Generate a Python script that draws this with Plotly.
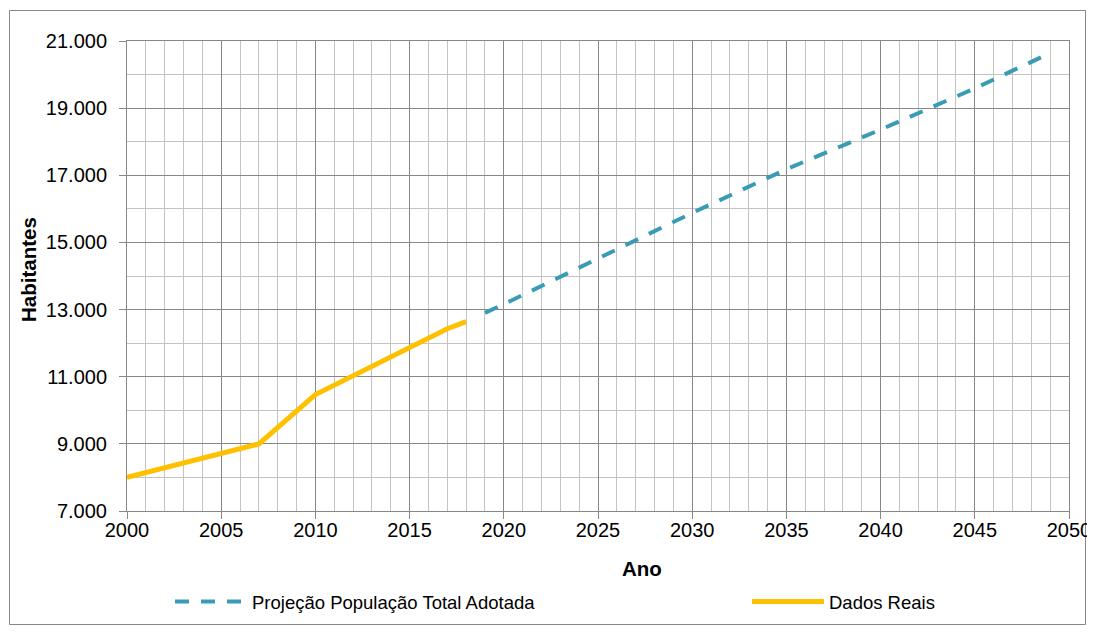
import plotly.graph_objects as go

# ---- data ----
real_years = [2000, 2005, 2007, 2010, 2015, 2017, 2018]
real_pop = [8000, 8720, 9000, 10470, 11880, 12430, 12640]

proj_years = [2019, 2020, 2025, 2030, 2035, 2040, 2045, 2049]
proj_pop = [12900, 13160, 14520, 15880, 17180, 18360, 19590, 20640]

x_title = "Ano"
y_title = "Habitantes"
proj_name = "Projeção População Total Adotada"
real_name = "Dados Reais"

# ---- styling ----
OFF = 8                      # page body margin of the browser
W, H = 1095 - OFF, 634 - OFF
PL, PR, PT, PB = 127, 1069, 41, 511   # plot area in screen pixels
MAJOR = "#878787"
MINOR = "#c3c3c3"
BLUE = "#3a9bb4"
GOLD = "#ffc000"
FONT = "Liberation Sans, Arial, sans-serif"
FS_TICK = 20
FS_LEG = 18.5
FS_TITLE = 20.5

fig = go.Figure()
fig.add_trace(go.Scatter(
    x=proj_years, y=proj_pop, mode="lines", name=proj_name, legend="legend",
    line=dict(color=BLUE, width=4, dash="14px,12px"),
))
fig.add_trace(go.Scatter(
    x=real_years, y=real_pop, mode="lines", name=real_name, legend="legend2",
    line=dict(color=GOLD, width=5),
))

pw, ph = PR - PL, PB - PT
def px_x(s):
    return (s - PL) / pw
def px_y(s):
    return (PB - s) / ph

leg_common = dict(
    orientation="h", xanchor="left", yanchor="top", itemwidth=72,
    font=dict(size=FS_LEG, family=FONT), bgcolor="rgba(0,0,0,0)",
)

fig.update_layout(
    width=W, height=H,
    margin=dict(l=PL - OFF, r=1095 - PR, t=PT - OFF, b=634 - PB, pad=0, autoexpand=False),
    paper_bgcolor="white", plot_bgcolor="white",
    separators=",.",
    font=dict(family=FONT, size=FS_TICK, color="#000000"),
    showlegend=True,
    legend=dict(x=px_x(170), y=px_y(583), **leg_common),
    legend2=dict(x=px_x(747), y=px_y(583), **leg_common),
    shapes=[dict(
        type="rect", xref="paper", yref="paper",
        x0=px_x(9.5), x1=px_x(1085.5), y0=px_y(624.5), y1=px_y(10.5),
        line=dict(color=MAJOR, width=1), fillcolor="rgba(0,0,0,0)", layer="below",
    )],
    annotations=[
        dict(text="<b>" + x_title + "</b>", xref="paper", yref="paper",
             x=px_x(642), y=px_y(568), xanchor="center", yanchor="middle",
             showarrow=False, font=dict(size=FS_TITLE, family=FONT)),
        dict(text="<b>" + y_title + "</b>", xref="paper", yref="paper",
             x=px_x(28), y=px_y(270), xanchor="center", yanchor="middle",
             textangle=-90, showarrow=False, font=dict(size=FS_TITLE, family=FONT)),
    ],
)

fig.update_xaxes(
    range=[2000, 2050], tick0=2000, dtick=5, tickformat="d",
    showgrid=True, gridcolor=MAJOR, gridwidth=1,
    minor=dict(tick0=2000, dtick=1, showgrid=True, gridcolor=MINOR, gridwidth=1, ticks=""),
    ticks="outside", ticklen=7, tickcolor=MAJOR, tickwidth=1,
    showline=True, linecolor=MAJOR, linewidth=1, mirror=True,
    zeroline=False,
    tickfont=dict(size=FS_TICK, family=FONT),
    ticklabelstandoff=-6,
)
fig.update_yaxes(
    range=[7000, 21000], tick0=7000, dtick=2000, tickformat=",d",
    showgrid=True, gridcolor=MAJOR, gridwidth=1,
    minor=dict(tick0=7000, dtick=1000, showgrid=True, gridcolor=MINOR, gridwidth=1, ticks=""),
    ticks="outside", ticklen=7, tickcolor=MAJOR, tickwidth=1,
    showline=True, linecolor=MAJOR, linewidth=1, mirror=True,
    zeroline=False,
    tickfont=dict(size=FS_TICK, family=FONT),
    ticklabelstandoff=8,
)

fig.write_html("out.html")
